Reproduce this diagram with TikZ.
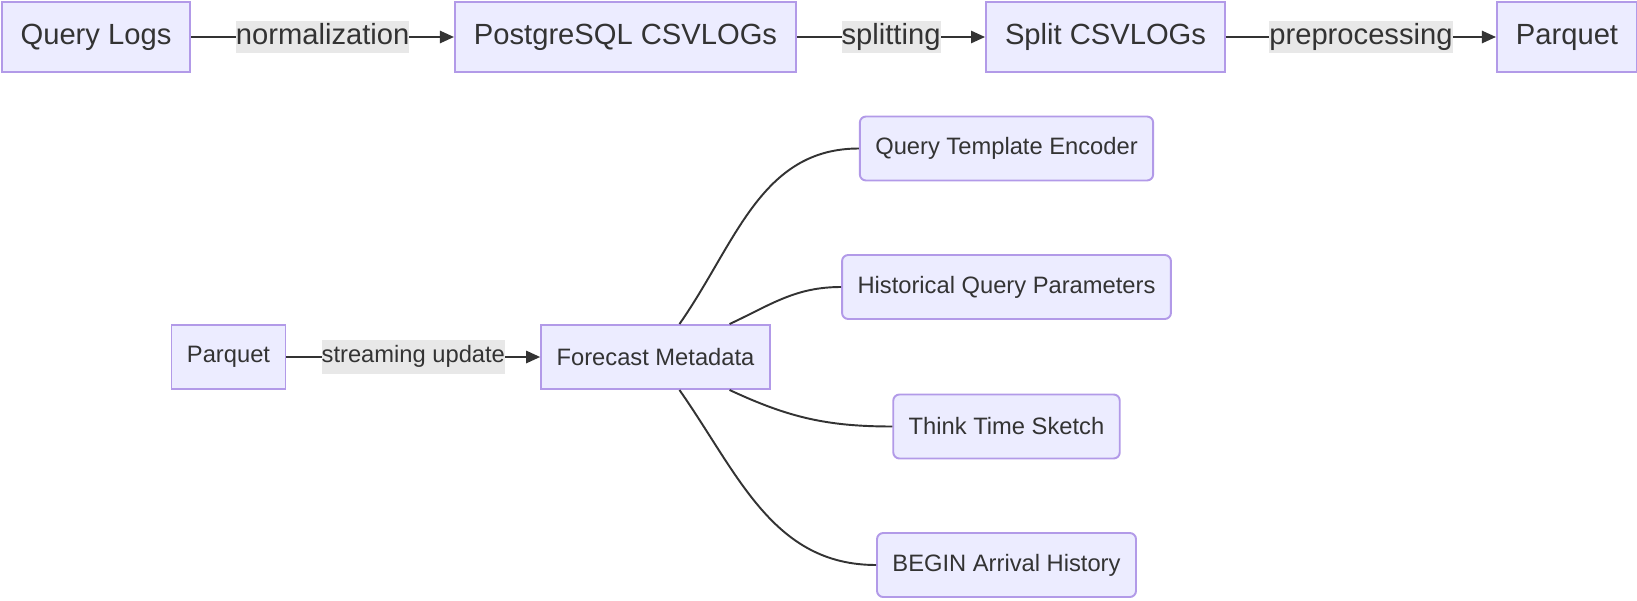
\documentclass[tikz,border=0pt]{standalone}
\usepackage{fontspec}
\setmainfont{Liberation Sans}
\usetikzlibrary{arrows.meta,positioning}
\usepackage{xcolor}
\definecolor{boxfill}{HTML}{ECECFF}
\definecolor{boxline}{HTML}{B29AE8}
\definecolor{inkgrey}{HTML}{333333}
\definecolor{labelbg}{HTML}{E8E8E8}

\begin{document}
\begin{tikzpicture}[
    bigbox/.style={draw=boxline,fill=boxfill,line width=1.1pt,text=inkgrey,
      font=\fontsize{16.6}{20}\selectfont,minimum height=1.4cm,inner xsep=10.8pt},
    smallbox/.style={draw=boxline,fill=boxfill,line width=1.1pt,text=inkgrey,
      font=\fontsize{13.5}{16}\selectfont,minimum height=1.28cm,inner xsep=8.8pt},
    roundbox/.style={smallbox,rounded corners=3.5pt},
    flow/.style={-{Triangle[length=8pt,width=7pt]},draw=inkgrey,line width=1.1pt},
    link/.style={draw=inkgrey,line width=1.1pt},
    biglabel/.style={fill=labelbg,text=inkgrey,font=\fontsize{16.6}{20}\selectfont,
      inner xsep=0pt,inner ysep=1.2pt,text height=12pt,text depth=4pt},
    smalllabel/.style={fill=labelbg,text=inkgrey,font=\fontsize{13.5}{16}\selectfont,
      inner xsep=0pt,inner ysep=3.2pt,text height=10pt,text depth=3.5pt}]
  \useasboundingbox (0,0) rectangle (32.74,12);
  % Log pipeline
  \node[bigbox] (logs) at (1.92,11.26) {Query Logs};
  \node[bigbox] (csv) at (12.51,11.26) {PostgreSQL CSVLOGs};
  \node[bigbox] (split) at (22.11,11.26) {Split CSVLOGs};
  \node[bigbox] (pq) at (31.34,11.26) {Parquet};
  \draw[flow] (logs) -- node[biglabel] {normalization} (csv);
  \draw[flow] (csv) -- node[biglabel] {splitting} (split);
  \draw[flow] (split) -- node[biglabel] {preprocessing} (pq);
  % Forecast metadata
  \node[smallbox] (pqin) at (4.57,4.86) {Parquet};
  \node[smallbox] (meta) at (13.11,4.86) {Forecast Metadata};
  \node[roundbox] (enc) at (20.13,9.03) {Query Template Encoder};
  \node[roundbox] (hist) at (20.13,6.26) {Historical Query Parameters};
  \node[roundbox] (think) at (20.13,3.47) {Think Time Sketch};
  \node[roundbox] (arrival) at (20.13,0.70) {BEGIN Arrival History};
  \draw[flow] (pqin) -- node[smalllabel] {streaming update} (meta);
  \draw[link] (meta.54) to[out=55,in=180] (enc.west);
  \draw[link] (meta.24) to[out=25,in=180] (hist.west);
  \draw[link] (meta.-24) to[out=-25,in=180] (think.west);
  \draw[link] (meta.-54) to[out=-55,in=180] (arrival.west);
\end{tikzpicture}
\end{document}
